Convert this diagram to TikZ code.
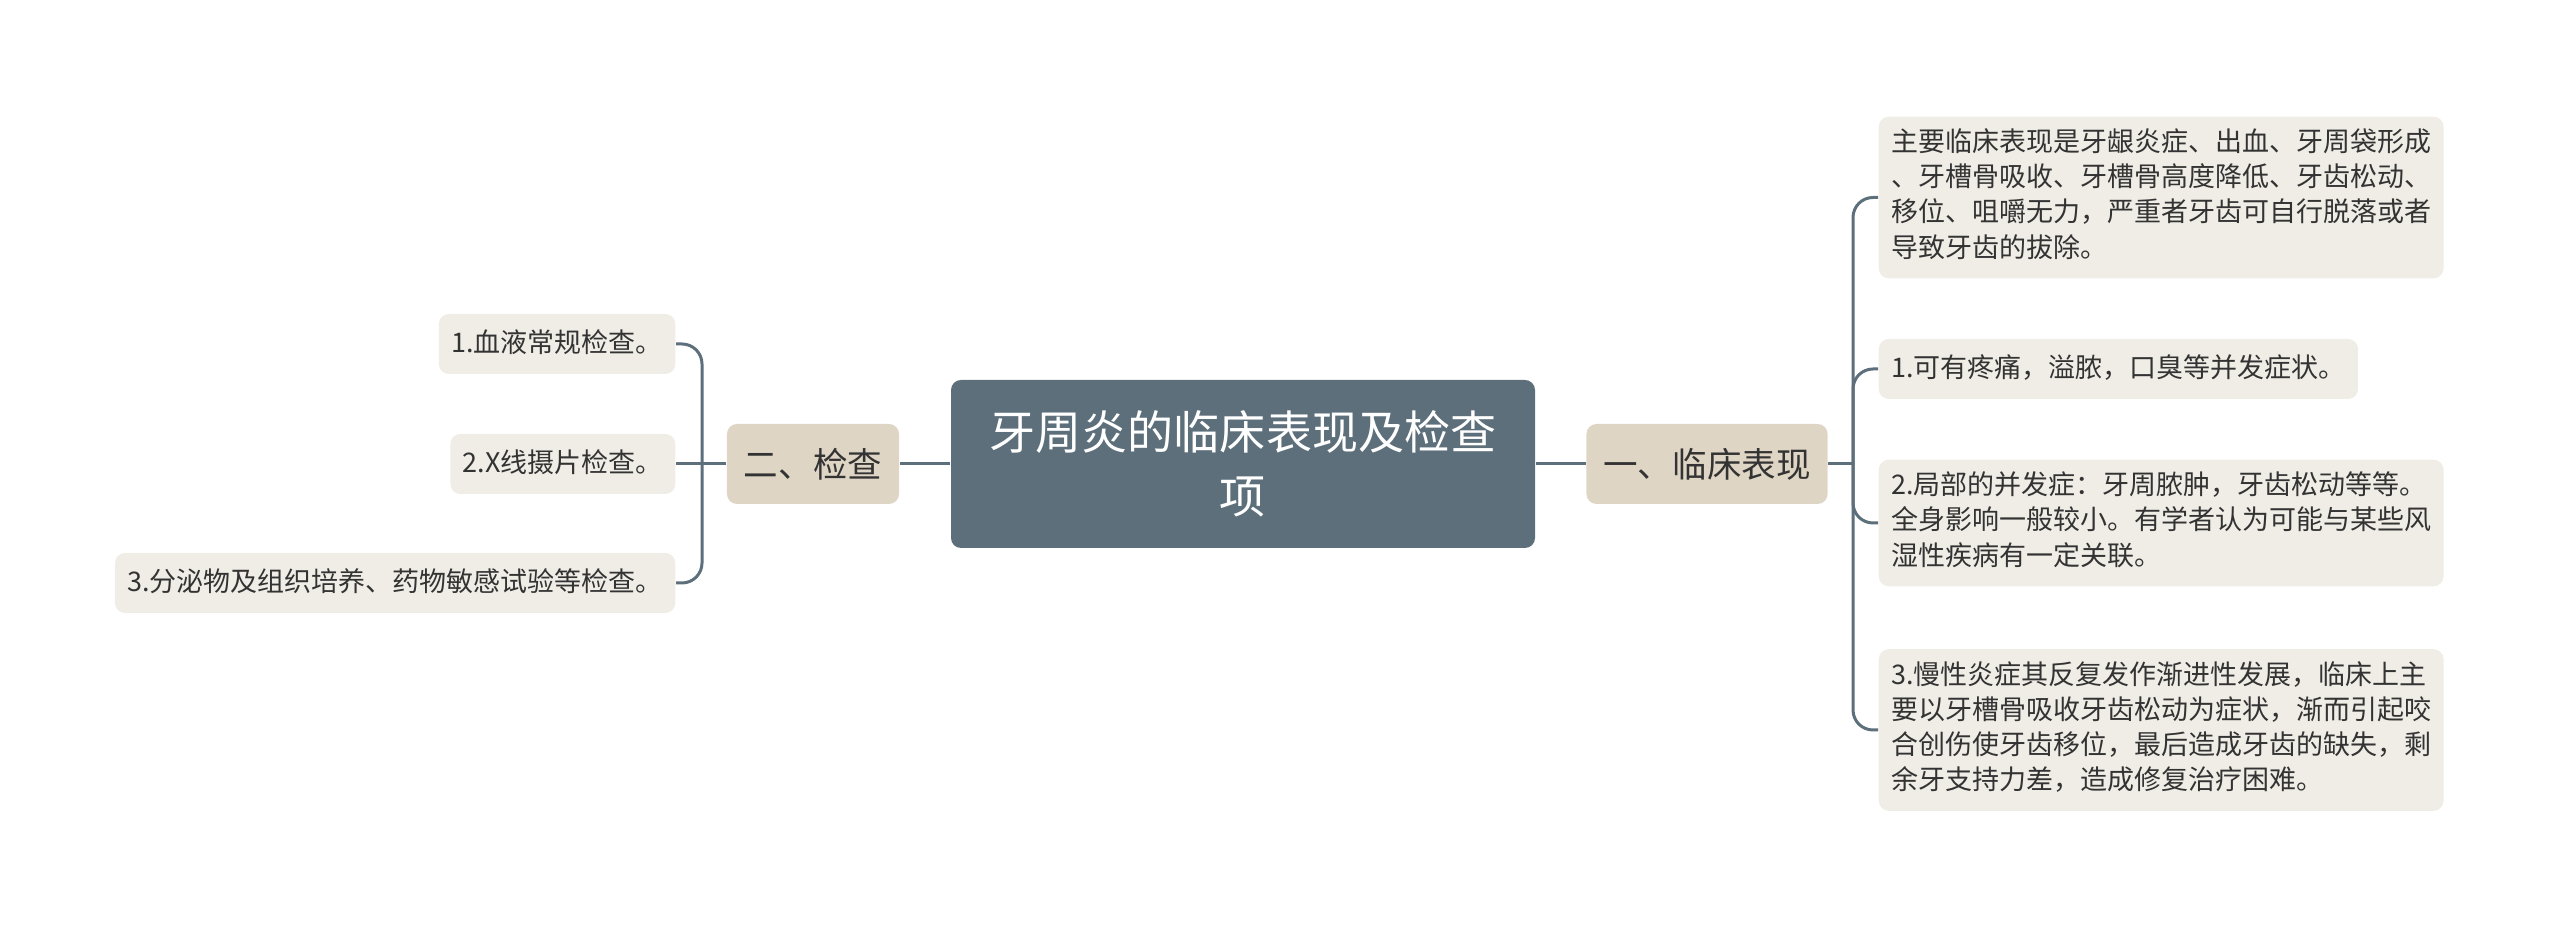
\documentclass[tikz,border=0pt]{standalone}
\usepackage{fontspec}
\newfontfamily\cjk{Noto Sans CJK SC}
\usetikzlibrary{positioning}
\definecolor{slate}{HTML}{5C6F7B}
\definecolor{topicfill}{HTML}{DED5C5}
\definecolor{leaffill}{HTML}{F0EDE6}
\definecolor{ink}{HTML}{333333}
\newcommand\lnstrut{\rule[-2.5pt]{0pt}{9.96pt}}
\tikzset{
    mainbox/.style={fill=slate,rounded corners=0.1cm,text=white,align=center,
        minimum width=5.84cm,minimum height=1.68cm,
        font=\cjk\fontsize{13.1pt}{18.2pt}\selectfont},
    topicbox/.style={fill=topicfill,rounded corners=0.1cm,text=ink,
        inner xsep=0.17cm,minimum height=0.8cm,
        font=\cjk\fontsize{9.82pt}{12pt}\selectfont},
    leafbox/.style={fill=leaffill,rounded corners=0.1cm,text=ink,align=left,
        inner xsep=0.125cm,inner ysep=0.125cm,
        font=\cjk\fontsize{7.68pt}{9.96pt}\selectfont,
        execute at begin node=\lnstrut,execute at end node=\lnstrut},
    branch/.style={draw=slate,line width=0.85pt,rounded corners=0.2cm}
}
\begin{document}
\begin{tikzpicture}
    \useasboundingbox (0,0) rectangle (25.6,-9.28);
    \node[mainbox] at (12.43,-4.64) (main) {牙周炎的临床表现及检查\\项};
    \node[topicbox] at (17.07,-4.64) (clin) {一、临床表现};
    \node[topicbox] at (8.13,-4.64) (exam) {二、检查};
    % clinical findings
    \node[leafbox,anchor=west] at (18.78,-1.975) (sym) {主要临床表现是牙龈炎症、出血、牙周袋形成\\、牙槽骨吸收、牙槽骨高度降低、牙齿松动、\\移位、咀嚼无力，严重者牙齿可自行脱落或者\\导致牙齿的拔除。};
    \node[leafbox,anchor=west] at (18.78,-3.69) (pain) {1.可有疼痛，溢脓，口臭等并发症状。};
    \node[leafbox,anchor=west] at (18.78,-5.23) (local) {2.局部的并发症：牙周脓肿，牙齿松动等等。\\全身影响一般较小。有学者认为可能与某些风\\湿性疾病有一定关联。};
    \node[leafbox,anchor=west] at (18.78,-7.30) (chron) {3.慢性炎症其反复发作渐进性发展，临床上主\\要以牙槽骨吸收牙齿松动为症状，渐而引起咬\\合创伤使牙齿移位，最后造成牙齿的缺失，剩\\余牙支持力差，造成修复治疗困难。};
    % examinations
    \node[leafbox,anchor=east] at (6.76,-3.44) (blood) {1.血液常规检查。};
    \node[leafbox,anchor=east] at (6.76,-4.64) (xray) {2.X线摄片检查。};
    \node[leafbox,anchor=east] at (6.76,-5.83) (cult) {3.分泌物及组织培养、药物敏感试验等检查。};
    \coordinate (cj) at (18.53,-4.64);
    \coordinate (ej) at (7.02,-4.64);
    \draw[branch] (main) -- (clin);
    \draw[branch] (main) -- (exam);
    \draw[branch] (clin) -- (cj);
    \draw[branch] (exam) -- (ej);
    \draw[branch] (cj) |- (sym.west);
    \draw[branch] (cj) |- (pain.west);
    \draw[branch] (cj) |- (local.west);
    \draw[branch] (cj) |- (chron.west);
    \draw[branch] (ej) |- (blood.east);
    \draw[branch] (ej) -- (xray.east);
    \draw[branch] (ej) |- (cult.east);
\end{tikzpicture}
\end{document}
